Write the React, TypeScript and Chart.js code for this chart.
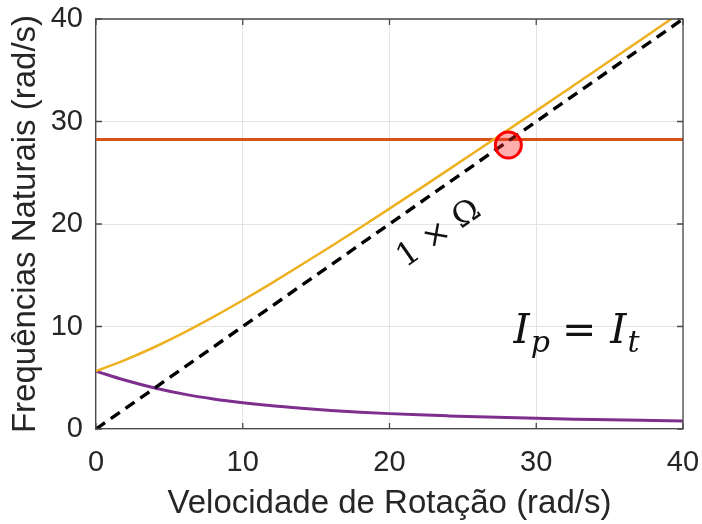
import React, { useEffect, useRef } from "react";
import { Chart, registerables } from "chart.js";

Chart.register(...registerables);

// ---- data ----
const rotationSpeed = [0, 2, 4, 6, 8, 10, 12, 14, 16, 18, 20, 22, 24, 26, 28, 30, 32, 34, 36, 38, 40];
const forwardWhirl = [5.65, 6.75, 8.0, 9.4, 10.93, 12.56, 14.26, 16.02, 17.81, 19.64, 21.5, 23.38, 25.28, 27.19, 29.11, 31.04, 32.98, 34.92, 36.87, 38.83, 40.79];
const backwardWhirl = [5.65, 4.75, 4.0, 3.4, 2.93, 2.56, 2.26, 2.02, 1.81, 1.64, 1.5, 1.38, 1.28, 1.19, 1.11, 1.04, 0.98, 0.92, 0.87, 0.83, 0.79];
const criticalLevel = 28.25;
const synchronousX = [0, 40];
const synchronousY = [0, 40];
const intersectionX = [28.1];
const intersectionY = [27.7];
const axisTicks = [0, 10, 20, 30, 40];

const TEXT = "#262626";
const AXIS = "#4a4a4a";
const SANS = '"Liberation Sans", Arial, sans-serif';
const MATH = '"DejaVu Serif", "Liberation Serif", serif';

const decorPlugin = {
  id: "decor",
  afterDatasetsDraw(chart: any) {
    const { ctx, chartArea, scales } = chart;
    const xs = scales.x;
    const ys = scales.y;
    // box + inner ticks
    ctx.save();
    ctx.strokeStyle = AXIS;
    ctx.lineWidth = 1.3;
    ctx.beginPath();
    ctx.moveTo(chartArea.left, chartArea.top);
    ctx.lineTo(chartArea.right, chartArea.top);
    ctx.lineTo(chartArea.right, chartArea.bottom);
    ctx.stroke();
    const tl = 6;
    ctx.beginPath();
    axisTicks.forEach((v) => {
      const px = xs.getPixelForValue(v);
      ctx.moveTo(px, chartArea.bottom);
      ctx.lineTo(px, chartArea.bottom - tl);
      ctx.moveTo(px, chartArea.top);
      ctx.lineTo(px, chartArea.top + tl);
      const py = ys.getPixelForValue(v);
      ctx.moveTo(chartArea.left, py);
      ctx.lineTo(chartArea.left + tl, py);
      ctx.moveTo(chartArea.right, py);
      ctx.lineTo(chartArea.right - tl, py);
    });
    ctx.stroke();
    ctx.restore();

    // "1 × Ω" along the synchronous line
    ctx.save();
    const x0 = xs.getPixelForValue(synchronousX[0]);
    const y0 = ys.getPixelForValue(synchronousY[0]);
    const x1 = xs.getPixelForValue(synchronousX[1]);
    const y1 = ys.getPixelForValue(synchronousY[1]);
    const ang = Math.atan2(y1 - y0, x1 - x0);
    ctx.translate(xs.getPixelForValue(23.4), ys.getPixelForValue(19.0));
    ctx.rotate(ang);
    ctx.fillStyle = "#111";
    ctx.font = `32px ${MATH}`;
    ctx.textAlign = "center";
    ctx.textBaseline = "middle";
    ctx.fillText("1 × Ω", 0, 0);
    ctx.restore();

    // I_p = I_t
    ctx.save();
    ctx.fillStyle = "#111";
    ctx.textBaseline = "alphabetic";
    ctx.textAlign = "left";
    let cx = xs.getPixelForValue(28.45);
    const base = ys.getPixelForValue(8.4);
    const big = `italic 41px ${MATH}`;
    const sub = `italic 30px ${MATH}`;
    ctx.font = big;
    ctx.fillText("I", cx, base);
    cx += ctx.measureText("I").width + 1;
    ctx.font = sub;
    ctx.fillText("p", cx, base + 9);
    cx += ctx.measureText("p").width + 12;
    ctx.font = `41px ${MATH}`;
    ctx.fillText("=", cx, base);
    cx += ctx.measureText("=").width + 14;
    ctx.font = big;
    ctx.fillText("I", cx, base);
    cx += ctx.measureText("I").width + 1;
    ctx.font = sub;
    ctx.fillText("t", cx, base + 9);
    ctx.restore();
  },
};

const zeroPad = (s: any) => {
  s.paddingLeft = 0;
  s.paddingRight = 0;
  s.paddingTop = 0;
  s.paddingBottom = 0;
};

export default function App() {
  const ref = useRef<HTMLCanvasElement | null>(null);

  useEffect(() => {
    if (!ref.current) return;
    const pts = (xa: number[], ya: number[]) => xa.map((x, i) => ({ x, y: ya[i] }));
    const chart = new Chart(ref.current, {
      type: "line",
      data: {
        datasets: [
          {
            label: "intersection",
            type: "scatter",
            data: pts(intersectionX, intersectionY),
            pointRadius: 13,
            pointBorderWidth: 3,
            pointBorderColor: "#ff0000",
            pointBackgroundColor: "rgba(255,40,40,0.38)",
            order: 0,
          } as any,
          {
            label: "1xOmega",
            data: pts(synchronousX, synchronousY),
            borderColor: "#000000",
            borderWidth: 3.4,
            borderDash: [11, 7],
            pointRadius: 0,
            order: 1,
          },
          {
            label: "forward",
            data: pts(rotationSpeed, forwardWhirl),
            borderColor: "#EDB120",
            borderWidth: 2.5,
            pointRadius: 0,
            cubicInterpolationMode: "monotone",
            order: 2,
          },
          {
            label: "backward",
            data: pts(rotationSpeed, backwardWhirl),
            borderColor: "#7E2F8E",
            borderWidth: 3,
            pointRadius: 0,
            cubicInterpolationMode: "monotone",
            order: 3,
          },
          {
            label: "critical",
            data: pts(synchronousX, synchronousX.map(() => criticalLevel)),
            borderColor: "#D95319",
            borderWidth: 3,
            pointRadius: 0,
            order: 4,
          },
        ],
      },
      options: {
        responsive: false,
        animation: false,
        devicePixelRatio: 1,
        layout: { padding: { top: 19, right: 19, left: 0, bottom: 0 } },
        plugins: { legend: { display: false }, tooltip: { enabled: false } },
        scales: {
          x: {
            type: "linear",
            min: 0,
            max: 40,
            afterBuildTicks: (s: any) => {
              s.ticks = axisTicks.map((v) => ({ value: v }));
            },
            afterFit: (s: any) => {
              s.height = 95;
              zeroPad(s);
            },
            grid: { color: "#e3e3e3", lineWidth: 1, drawTicks: false },
            border: { color: AXIS, width: 1.3 },
            ticks: { color: TEXT, font: { family: SANS, size: 29 }, padding: 17, maxRotation: 0 },
            title: {
              display: true,
              text: "Velocidade de Rotação (rad/s)",
              color: TEXT,
              font: { family: SANS, size: 33 },
              padding: { top: 0, bottom: 0 },
            },
          },
          y: {
            type: "linear",
            min: 0,
            max: 40,
            afterBuildTicks: (s: any) => {
              s.ticks = axisTicks.map((v) => ({ value: v }));
            },
            afterFit: (s: any) => {
              s.width = 96;
              zeroPad(s);
            },
            grid: { color: "#e3e3e3", lineWidth: 1, drawTicks: false },
            border: { color: AXIS, width: 1.3 },
            ticks: { color: TEXT, font: { family: SANS, size: 29 }, padding: 13 },
            title: {
              display: true,
              text: "Frequências Naturais (rad/s)",
              color: TEXT,
              font: { family: SANS, size: 33 },
              padding: { top: 6, bottom: 0 },
            },
          },
        },
      },
      plugins: [decorPlugin],
    } as any);
    return () => chart.destroy();
  }, []);

  return (
    <div style={{ position: "absolute", left: 0, top: 0, width: 702, height: 524, background: "#fff" }}>
      <canvas ref={ref} width={702} height={524} style={{ display: "block" }} />
    </div>
  );
}
